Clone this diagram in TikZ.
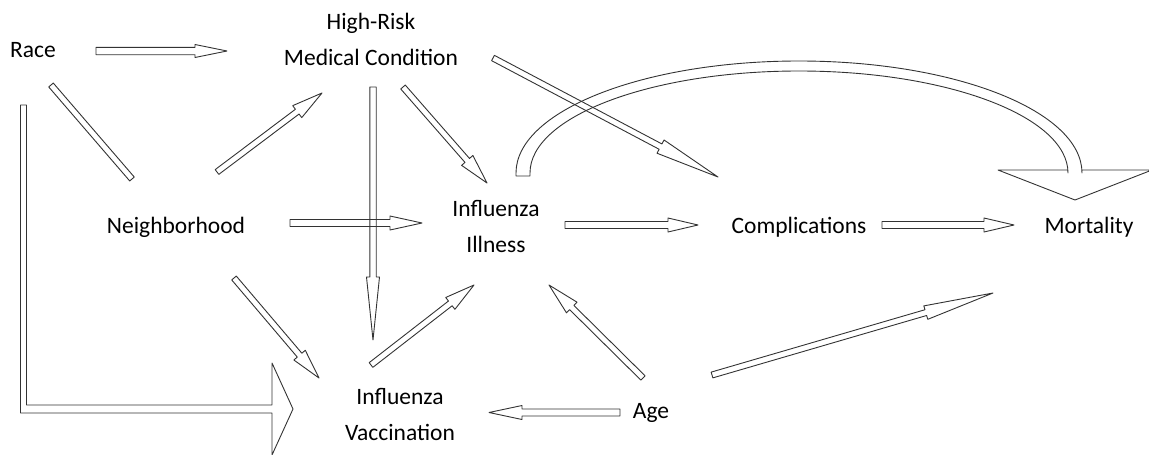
\documentclass[tikz,border=0pt]{standalone}
\usepackage{fontspec}
\setmainfont{Carlito}
\usetikzlibrary{calc}
\tikzset{
  blockline/.style={draw=black!80, line width=0.9pt, line join=round},
  lbl/.style={font=\fontsize{23.5}{36}\selectfont, align=center, inner sep=0pt}
}
% outlined block arrow: start, tip, shaft half width, head half width, head length
\newcommand{\blockarrow}[5]{%
  \coordinate (hb) at ($(#2)!#5pt!(#1)$);
  \draw[blockline] ($(#1)!#3pt!90:(#2)$) -- ($(hb)!#3pt!90:(#2)$) -- ($(hb)!#4pt!90:(#2)$)
    -- (#2) -- ($(hb)!#4pt!-90:(#2)$) -- ($(hb)!#3pt!-90:(#2)$) -- ($(#1)!#3pt!-90:(#2)$) -- cycle;}
% same, without a head
\newcommand{\blockbar}[3]{%
  \draw[blockline] ($(#1)!#3pt!90:(#2)$) -- ($(#2)!#3pt!-90:(#1)$)
    -- ($(#2)!#3pt!90:(#1)$) -- ($(#1)!#3pt!-90:(#2)$) -- cycle;}

\begin{document}
\begin{tikzpicture}[x=1pt, y=-1pt]
\useasboundingbox (0,0) rectangle (1149,455);
% variables
\node[lbl, anchor=base] (race) at (33,57) {Race};
\node[lbl] (risk) at (371,39) {High-Risk\\Medical Condition};
\node[lbl, anchor=base] (hood) at (176,233) {Neighborhood};
\node[lbl] (ill) at (496,226) {Influenza\\Illness};
\node[lbl, anchor=base] (comp) at (799,233) {Complications};
\node[lbl, anchor=base] (mort) at (1089,233) {Mortality};
\node[lbl] (vacc) at (400,414) {Influenza\\Vaccination};
\node[lbl, anchor=base] (age) at (651,418) {Age};

% arrow ends
\coordinate (raceRisk-a) at (96,51);   \coordinate (raceRisk-b) at (227,51);
\coordinate (raceHood-a) at (51,85);   \coordinate (raceHood-b) at (132,179);
\coordinate (hoodRisk-a) at (217,172); \coordinate (hoodRisk-b) at (322,93);
\coordinate (riskVacc-a) at (373,87);  \coordinate (riskVacc-b) at (373,340);
\coordinate (riskIll-a) at (403,87);   \coordinate (riskIll-b) at (487,183);
\coordinate (riskComp-a) at (493,58);  \coordinate (riskComp-b) at (718,177);
\coordinate (hoodIll-a) at (290,223);  \coordinate (hoodIll-b) at (422,223);
\coordinate (illComp-a) at (565,225);  \coordinate (illComp-b) at (698,225);
\coordinate (compMort-a) at (882,225); \coordinate (compMort-b) at (1014,225);
\coordinate (hoodVacc-a) at (234,278); \coordinate (hoodVacc-b) at (319,378);
\coordinate (vaccIll-a) at (371,365);  \coordinate (vaccIll-b) at (474,285);
\coordinate (ageIll-a) at (643,378);   \coordinate (ageIll-b) at (549,285);
\coordinate (ageVacc-a) at (620,412.5); \coordinate (ageVacc-b) at (489,412.5);
\coordinate (ageMort-a) at (712,375);  \coordinate (ageMort-b) at (993,293);
\coordinate (raceVacc-a) at (20.5,105);
\coordinate (illMort-a) at (516,176);

% straight arrows
\blockarrow{raceRisk-a}{raceRisk-b}{3.7}{6.5}{32}
\blockbar{raceHood-a}{raceHood-b}{3}
\blockarrow{hoodRisk-a}{hoodRisk-b}{3}{7.5}{31}
\blockarrow{riskVacc-a}{riskVacc-b}{3.2}{6.5}{63}
\blockarrow{riskIll-a}{riskIll-b}{3}{7.5}{30}
\blockarrow{riskComp-a}{riskComp-b}{3}{7.5}{65}
\blockarrow{hoodIll-a}{hoodIll-b}{3.5}{7}{32}
\blockarrow{illComp-a}{illComp-b}{3.5}{7}{30}
\blockarrow{compMort-a}{compMort-b}{3.5}{7}{30}
\blockarrow{hoodVacc-a}{hoodVacc-b}{3}{7.5}{30}
\blockarrow{vaccIll-a}{vaccIll-b}{3}{7.5}{30}
\blockarrow{ageIll-a}{ageIll-b}{3}{7.5}{32}
\blockarrow{ageVacc-a}{ageVacc-b}{3.5}{7}{33}
\blockarrow{ageMort-a}{ageMort-b}{3}{7}{70}

% bent arrow race -> vaccination
\draw[blockline] (raceVacc-a) -- ++(6,0) -- ++(0,300) -- ++(245.5,0) -- ++(0,-42)
  -- ++(21,46) -- ++(-21,46) -- ++(0,-42) -- ++(-251.5,0) -- cycle;

% curved arrow illness -> mortality
\draw[blockline] (illMort-a) -- ++(0,-3) arc[start angle=180, end angle=360, x radius=283, y radius=112]
  -- ++(0,-3) -- ++(70,0) -- ++(-77,30) -- ++(-77,-30) -- ++(70,0) -- ++(0,3)
  arc[start angle=360, end angle=180, x radius=269, y radius=102] -- ++(0,3) -- cycle;
\end{tikzpicture}
\end{document}
